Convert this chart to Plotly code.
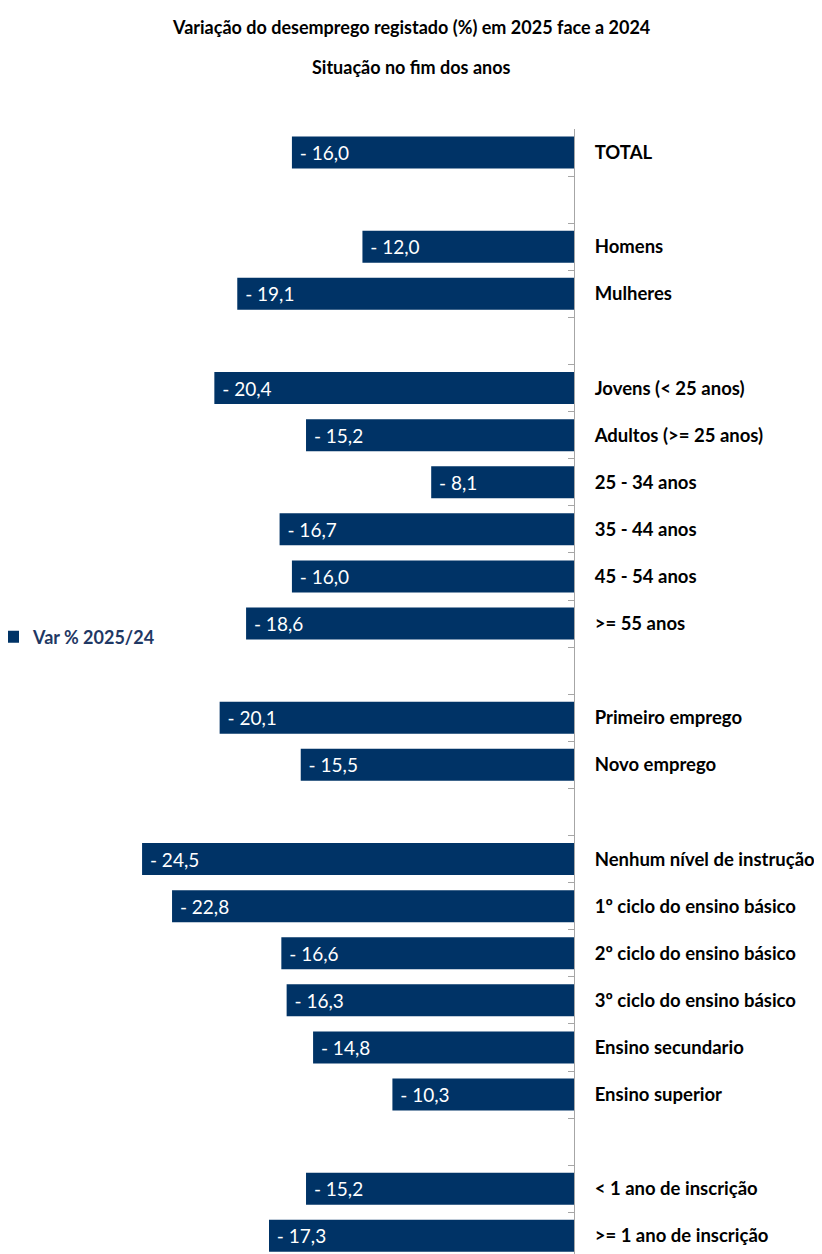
import plotly.graph_objects as go

categories = ["TOTAL", " ", "Homens", "Mulheres", "  ", "Jovens (< 25 anos)", "Adultos (>= 25 anos)",
              "25 - 34 anos", "35 - 44 anos", "45 - 54 anos", ">= 55 anos", "   ",
              "Primeiro emprego", "Novo emprego", "    ",
              "Nenhum nível de instrução", "1º ciclo do ensino básico", "2º ciclo do ensino básico",
              "3º ciclo do ensino básico", "Ensino secundario", "Ensino superior", "     ",
              "< 1 ano de inscrição", ">= 1 ano de inscrição"]
values = [-16.0, None, -12.0, -19.1, None, -20.4, -15.2, -8.1, -16.7, -16.0, -18.6, None,
          -20.1, -15.5, None, -24.5, -22.8, -16.6, -16.3, -14.8, -10.3, None, -15.2, -17.3]
series_name = "Var % 2025/24"

labels = ["" if v is None else "\u00a0- " + f"{abs(v):.1f}".replace(".", ",") for v in values]

OFF = 8  # page body margin
W, H = 822 - OFF, 1254 - OFF
TOP = 129 - OFF
PX_PER_UNIT = 17.63
AXIS_X = 574 - OFF

fig = go.Figure()
fig.add_trace(go.Bar(
    x=values, y=categories, orientation="h", name=series_name,
    marker=dict(color="#003366", line=dict(width=0)),
    width=0.68,
    text=labels, textposition="inside", insidetextanchor="end",
    textangle=0, constraintext="none",
    textfont=dict(color="white", size=19, family="Lato"),
    showlegend=True,
))

plot_h = H - TOP
slot = 47.1
y_bottom = -0.5 + plot_h / slot

fig.update_layout(
    width=W, height=H,
    margin=dict(l=0, r=W - AXIS_X, t=TOP, b=0, pad=0, autoexpand=False),
    plot_bgcolor="white", paper_bgcolor="white",
    font=dict(family="Lato", size=16, color="black"),
    showlegend=True,
    legend=dict(x=-15 / AXIS_X, y=(H - (637 - OFF)) / plot_h, xanchor="left", yanchor="middle",
                itemwidth=30, font=dict(family="Lato", size=18, color="#1F3864", weight="bold"),
                bgcolor="rgba(0,0,0,0)"),
    xaxis=dict(range=[-AXIS_X / PX_PER_UNIT, 0], visible=False, fixedrange=True, automargin=False),
    yaxis=dict(type="category", categoryorder="array", categoryarray=categories,
               range=[y_bottom, -0.5], side="right", anchor="x", automargin=False,
               showline=True, linecolor="#A6A6A6", linewidth=1,
               ticks="inside", ticklen=6, tickcolor="#A6A6A6", tickson="boundaries",
               showgrid=False, ticklabelstandoff=16,
               tickfont=dict(family="Lato", size=18.5, color="black", weight="bold")),
    annotations=[
        dict(text="Variação do desemprego registado (%) em 2025 face a 2024", xref="paper", yref="paper",
             x=(411 - OFF) / AXIS_X, y=(H - (27 - OFF)) / plot_h, xanchor="center", yanchor="middle",
             showarrow=False, font=dict(family="Lato", size=18, color="black", weight="bold")),
        dict(text="Situação no fim dos anos", xref="paper", yref="paper",
             x=(411 - OFF) / AXIS_X, y=(H - (67 - OFF)) / plot_h, xanchor="center", yanchor="middle",
             showarrow=False, font=dict(family="Lato", size=18, color="black", weight="bold")),
    ],
)

fig.write_html("out.html")
